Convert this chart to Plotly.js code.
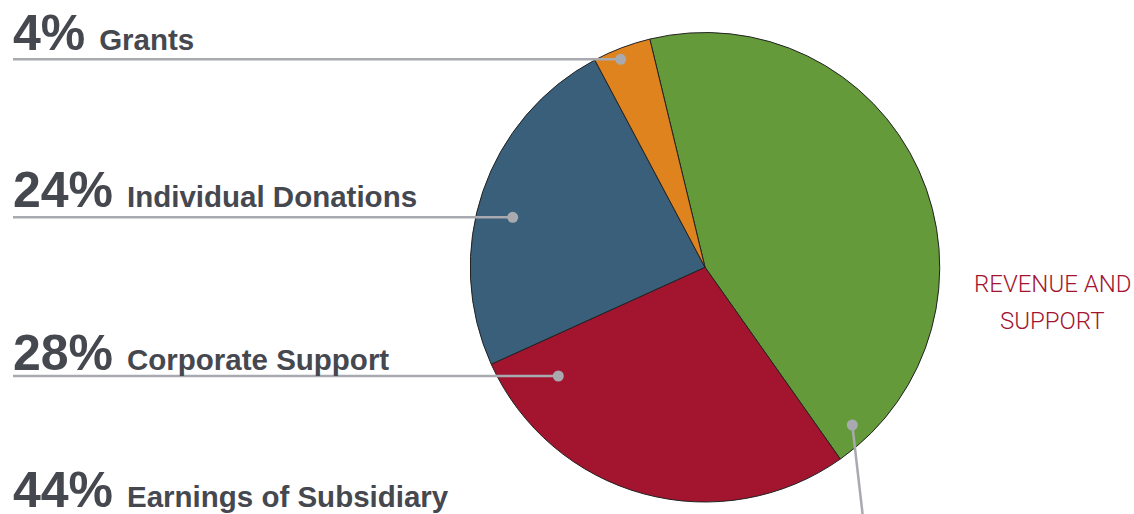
<!DOCTYPE html>
<html>
<head>
<meta charset="utf-8">
<script src="https://cdn.plot.ly/plotly-3.0.1.min.js"></script>
<style>html,body{margin:0;padding:0;background:#fff;}#chart{width:1134px;height:514px;}</style>
</head>
<body>
<div id="chart"></div>
<script>
// Data
const categories = ["Earnings of Subsidiary", "Corporate Support", "Individual Donations", "Grants"];
const shares = [44, 28, 24, 4];
const sliceColors = ["#659a3b", "#a3142f", "#3a5f7a", "#de831e"];
const sideTitle = ["REVENUE AND", "SUPPORT"];

const W = 1134, H = 514;
const px = x => x / W;
const py = y => 1 - y / H;

// leader geometry (pixel positions of labels/dots)
const labelLayout = {
  "Grants":                 {base: 52,  lineY: 59.3, dotX: 620.7},
  "Individual Donations":   {base: 209, lineY: 217.3, dotX: 512.7},
  "Corporate Support":      {base: 372, lineY: 376,  dotX: 558.3},
  "Earnings of Subsidiary": {base: 509, lineY: null, dotX: 852.3, dotY: 425}
};

const textColor = "#46484f";
const leaderColor = "#a8aaaf";

const annotations = [];
const shapes = [];
categories.forEach((c, i) => {
  const L = labelLayout[c];
  annotations.push({
    xref: "paper", yref: "paper",
    x: px(11), y: py(L.base + 11),
    xanchor: "left", yanchor: "bottom",
    showarrow: false,
    align: "left",
    text: "<span style='font-size:50px'>" + shares[i] + "% </span>" + c,
    font: {family: "Liberation Sans, Arial, sans-serif", size: 29.5, color: textColor, weight: 700}
  });
  if (L.lineY !== null) {
    shapes.push({type: "line", xref: "paper", yref: "paper",
      x0: px(13), x1: px(L.dotX), y0: py(L.lineY), y1: py(L.lineY),
      line: {color: leaderColor, width: 2.5}});
    shapes.push({type: "circle", xref: "paper", yref: "paper",
      x0: px(L.dotX - 5.5), x1: px(L.dotX + 5.5), y0: py(L.lineY - 5.5), y1: py(L.lineY + 5.5),
      fillcolor: leaderColor, line: {width: 0}});
  } else {
    shapes.push({type: "line", xref: "paper", yref: "paper",
      x0: px(L.dotX), x1: px(L.dotX + 10.5), y0: py(L.dotY), y1: py(516),
      line: {color: leaderColor, width: 2.5}});
    shapes.push({type: "circle", xref: "paper", yref: "paper",
      x0: px(L.dotX - 5.5), x1: px(L.dotX + 5.5), y0: py(L.dotY - 5.5), y1: py(L.dotY + 5.5),
      fillcolor: leaderColor, line: {width: 0}});
  }
});

sideTitle.forEach((t, k) => {
  annotations.push({
    xref: "paper", yref: "paper",
    x: px(1052), y: py(284 + k * 37),
    xanchor: "center", yanchor: "middle",
    showarrow: false,
    text: t,
    font: {family: "Roboto, sans-serif", size: 24, color: "#a3142f", weight: 300}
  });
});

const trace = {
  type: "pie",
  labels: categories,
  values: shares,
  sort: false,
  direction: "clockwise",
  rotation: -13.6,
  textinfo: "none",
  hoverinfo: "label+percent",
  marker: {colors: sliceColors, line: {color: "#222222", width: 1}},
  domain: {x: [px(470), px(940)], y: [py(502), py(32.5)]},
  showlegend: false
};

const layout = {
  width: W, height: H,
  margin: {l: 0, r: 0, t: 0, b: 0},
  paper_bgcolor: "#ffffff",
  showlegend: false,
  annotations: annotations,
  shapes: shapes
};

Plotly.newPlot("chart", [trace], layout, {displayModeBar: false, staticPlot: true});
</script>
</body>
</html>
